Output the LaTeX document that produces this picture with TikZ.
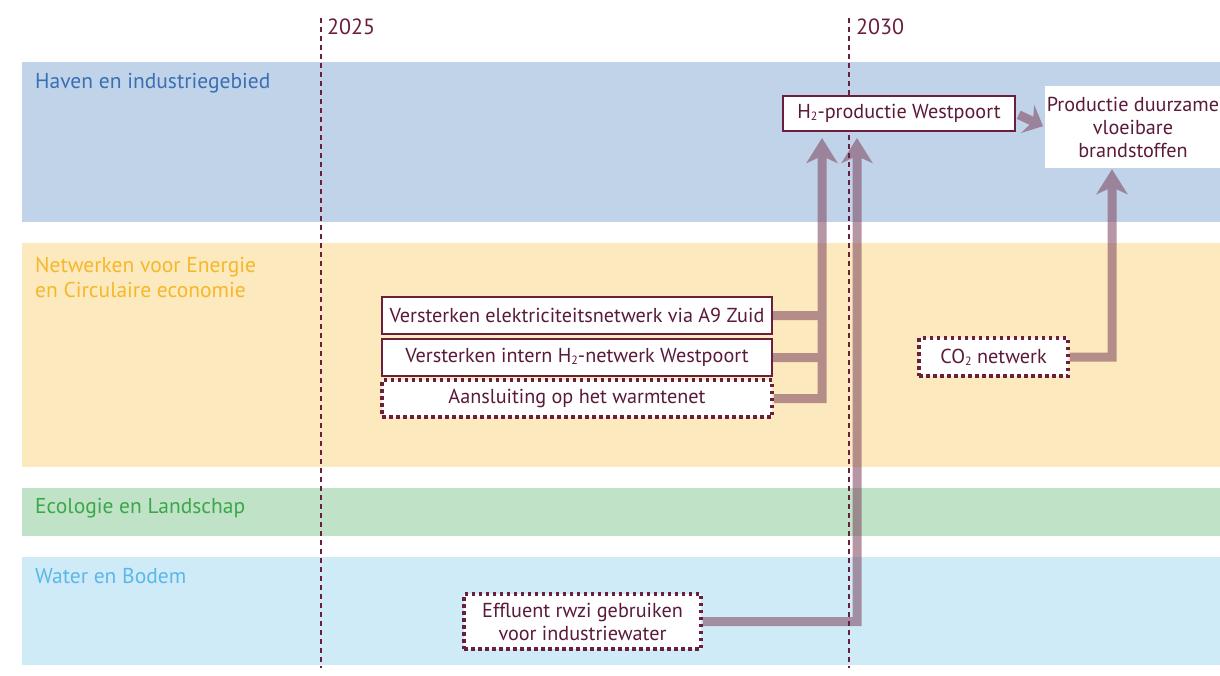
\documentclass[tikz,border=0pt]{standalone}
\usepackage{fontspec}
\setmainfont{PT Sans}
\usetikzlibrary{arrows.meta,calc}
\definecolor{maroon}{HTML}{6B1F3F}
\definecolor{txt}{HTML}{5A1A3A}
\definecolor{bandblue}{HTML}{C0D3E8}
\definecolor{bandyellow}{HTML}{FCE9BE}
\definecolor{bandgreen}{HTML}{C0E3C8}
\definecolor{bandwater}{HTML}{D0EBF8}
\definecolor{lblblue}{HTML}{3A6FB5}
\definecolor{lblyellow}{HTML}{F5B82A}
\definecolor{lblgreen}{HTML}{3AA84A}
\definecolor{lblwater}{HTML}{5AB8E8}
\definecolor{flow}{RGB}{124,66,92}
\newcommand\subtwo{\raisebox{-0.2ex}{\fontsize{12pt}{12pt}\selectfont 2}}
\begin{document}
\begin{tikzpicture}[x=1pt,y=-1pt,
  bandlabel/.style={anchor=base west,font=\fontsize{21.5pt}{25pt}\selectfont,inner sep=0pt},
  year/.style={anchor=west,text=maroon,font=\fontsize{22pt}{22pt}\selectfont,inner sep=0pt},
  timeline/.style={maroon,line width=2pt,dash pattern=on 5pt off 4pt},
  solidbox/.style={draw=maroon,line width=2pt,fill=white,text=txt,inner sep=0pt,
    font=\fontsize{20.2pt}{23pt}\selectfont,align=center},
  dottedbox/.style={solidbox,line width=3.5pt,dash pattern=on 3.5pt off 3.5pt},
  flowline/.style={flow,line width=9pt},
  flowarrow/.style={flowline,-{Stealth[length=25pt,width=31pt,inset=7pt]}}
]
\useasboundingbox (0,0) rectangle (1220,675);
\fill[white] (0,0) rectangle (1220,675);
% bands
\fill[bandblue] (22,62) rectangle (1220,222);
\fill[bandyellow] (22,243) rectangle (1220,467);
\fill[bandgreen] (22,488) rectangle (1220,536);
\fill[bandwater] (22,557) rectangle (1220,665);
\node[bandlabel,text=lblblue] (lh) at (35,88) {Haven en industriegebied};
\node[bandlabel,text=lblyellow] (ln1) at (35,272) {Netwerken voor Energie};
\node[bandlabel,text=lblyellow] (ln2) at (35,297) {en Circulaire economie};
\node[bandlabel,text=lblgreen] (le) at (35,513) {Ecologie en Landschap};
\node[bandlabel,text=lblwater] (lw) at (35,583) {Water en Bodem};
% nodes (placed first for naming, drawn later on top)
\path
  node[solidbox,minimum width=232pt,minimum height=35pt] (h2) at (899,113.5) {H\subtwo-productie Westpoort}
  node[fill=white,text=txt,inner sep=0pt,minimum width=176pt,minimum height=82pt,align=center,
       font=\fontsize{20.2pt}{23pt}\selectfont] (prod) at (1133,127) {Productie duurzame\\vloeibare\\brandstoffen}
  node[solidbox,minimum width=390pt,minimum height=37pt] (elec) at (577,315.5) {Versterken elektriciteitsnetwerk via A9 Zuid}
  node[solidbox,minimum width=390pt,minimum height=37pt] (h2net) at (577,357.5) {Versterken intern H\subtwo-netwerk Westpoort}
  node[dottedbox,minimum width=390pt,minimum height=37pt] (warm) at (577,398.5) {Aansluiting op het warmtenet}
  node[dottedbox,minimum width=149pt,minimum height=38pt] (co2) at (993.5,357) {CO\subtwo{} netwerk}
  node[dottedbox,minimum width=237pt,minimum height=55pt] (eff) at (582.5,621.5) {Effluent rwzi gebruiken\\voor industriewater};
% flows
\begin{scope}[transparency group,opacity=0.55]
  \draw[flowline] (elec.east) -- (822,315.5);
  \draw[flowline] (h2net.east) -- (822,357.5);
  \draw[flowarrow,shorten >=6pt] (warm.east) -| ($(h2.south)+(-77,0)$);
  \draw[flowarrow,shorten >=6pt] (eff.east) -| ($(h2.south)+(-42,0)$);
  \draw[flowarrow,shorten >=1pt] (co2.east) -| ($(prod.south)+(-21,0)$);
  \draw[flowline,-{Stealth[length=17pt,width=31pt,inset=6pt]},shorten >=2pt,shorten <=3pt] (h2.east) -- (prod.west);
\end{scope}
% timelines
\coordinate (t1a) at (321,18); \coordinate (t1b) at (321,668);
\coordinate (t2a) at (849,18); \coordinate (t2b) at (849,668);
\draw[timeline] (t1a) -- (t1b);
\draw[timeline] (t2a) -- (t2b);
\node[year] (y1) at (327,27) {2025};
\node[year] (y2) at (856,27) {2030};
% redraw nodes on top
\node[solidbox,minimum width=232pt,minimum height=35pt] at (899,113.5) {H\subtwo-productie Westpoort};
\node[fill=white,text=txt,inner sep=0pt,minimum width=176pt,minimum height=82pt,align=center,
       font=\fontsize{20.2pt}{23pt}\selectfont] at (1133,127) {Productie duurzame\\vloeibare\\brandstoffen};
\node[solidbox,minimum width=390pt,minimum height=37pt] at (577,315.5) {Versterken elektriciteitsnetwerk via A9 Zuid};
\node[solidbox,minimum width=390pt,minimum height=37pt] at (577,357.5) {Versterken intern H\subtwo-netwerk Westpoort};
\node[dottedbox,minimum width=390pt,minimum height=37pt] at (577,398.5) {Aansluiting op het warmtenet};
\node[dottedbox,minimum width=149pt,minimum height=38pt] at (993.5,357) {CO\subtwo{} netwerk};
\node[dottedbox,minimum width=237pt,minimum height=55pt] at (582.5,621.5) {Effluent rwzi gebruiken\\voor industriewater};
\end{tikzpicture}
\end{document}
